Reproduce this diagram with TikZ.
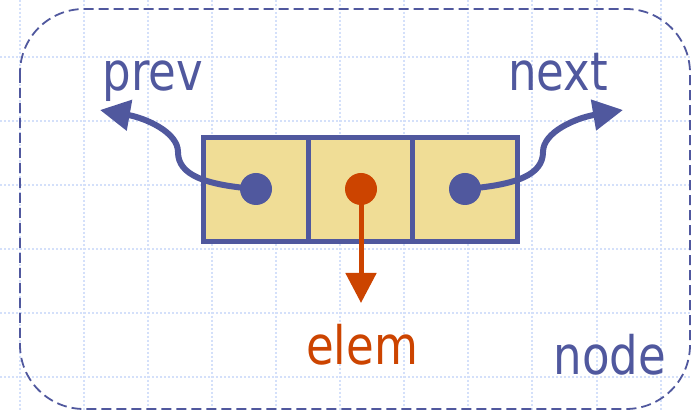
\documentclass[tikz,border=0pt]{standalone}
\usepackage{fontspec}
\setmainfont[FakeStretch=0.85]{DejaVu Sans}
\usetikzlibrary{arrows.meta}
\definecolor{dblue}{RGB}{80,88,158}
\definecolor{dred}{RGB}{204,68,0}
\definecolor{cellfill}{RGB}{240,221,150}
\definecolor{gridc}{RGB}{212,224,250}
\tikzset{
  gridline/.style={gridc, line width=1.2pt, dash pattern=on 2pt off 2pt},
  border/.style={dblue, line width=1.8pt, dash pattern=on 10pt off 5pt, rounded corners=64pt},
  cell/.style={draw=dblue, fill=cellfill, line width=5pt, minimum width=104.5pt, minimum height=104pt, inner sep=0pt},
  dot/.style={circle, inner sep=0pt, minimum size=32pt},
  ptr/.style={dblue, line width=6pt, -{Triangle[length=30pt,width=30pt]}},
  eptr/.style={dred, line width=5pt, -{Triangle[length=30pt,width=30pt]}},
  lbl/.style={font=\fontsize{53pt}{60pt}\selectfont, inner sep=0pt, anchor=base}
}
\begin{document}
\begin{tikzpicture}[x=1pt,y=-1pt]
\useasboundingbox (0,0) rectangle (691,411);
\fill[white] (0,0) rectangle (691,411);
\foreach \gx in {20,84,148,212,276,340,404,468,532,597,661} {\draw[gridline] (\gx,0) -- (\gx,411);}
\foreach \gy in {57,121,185,249,313,377} {\draw[gridline] (0,\gy) -- (691,\gy);}
\draw[border] (20,9) rectangle (690,409);
\node[cell] (c1) at (256,189.5) {};
\node[cell] (c2) at (360.5,189.5) {};
\node[cell] (c3) at (465,189.5) {};
\node[dot, fill=dblue] (pd) at (256,189) {};
\node[dot, fill=dred] (ed) at (361,189) {};
\node[dot, fill=dblue] (nd) at (465,189) {};
\coordinate (pt) at (100,110);
\coordinate (nt) at (623,110);
\coordinate (et) at (361,303);
\draw[ptr] (pd.center) .. controls (205,185) and (178,175) .. (178,152) .. controls (178,132) and (145,118) .. (pt);
\draw[ptr] (nd.center) .. controls (516,185) and (543,175) .. (543,152) .. controls (543,132) and (576,118) .. (nt);
\draw[eptr] (ed.center) -- (et);
\node[lbl, dblue] (prev) at (153,91) {prev};
\node[lbl, dblue] (next) at (558,91) {next};
\node[lbl, dred] (elem) at (362,365) {elem};
\node[lbl, dblue] (nodelbl) at (610,375) {node};
\end{tikzpicture}
\end{document}
